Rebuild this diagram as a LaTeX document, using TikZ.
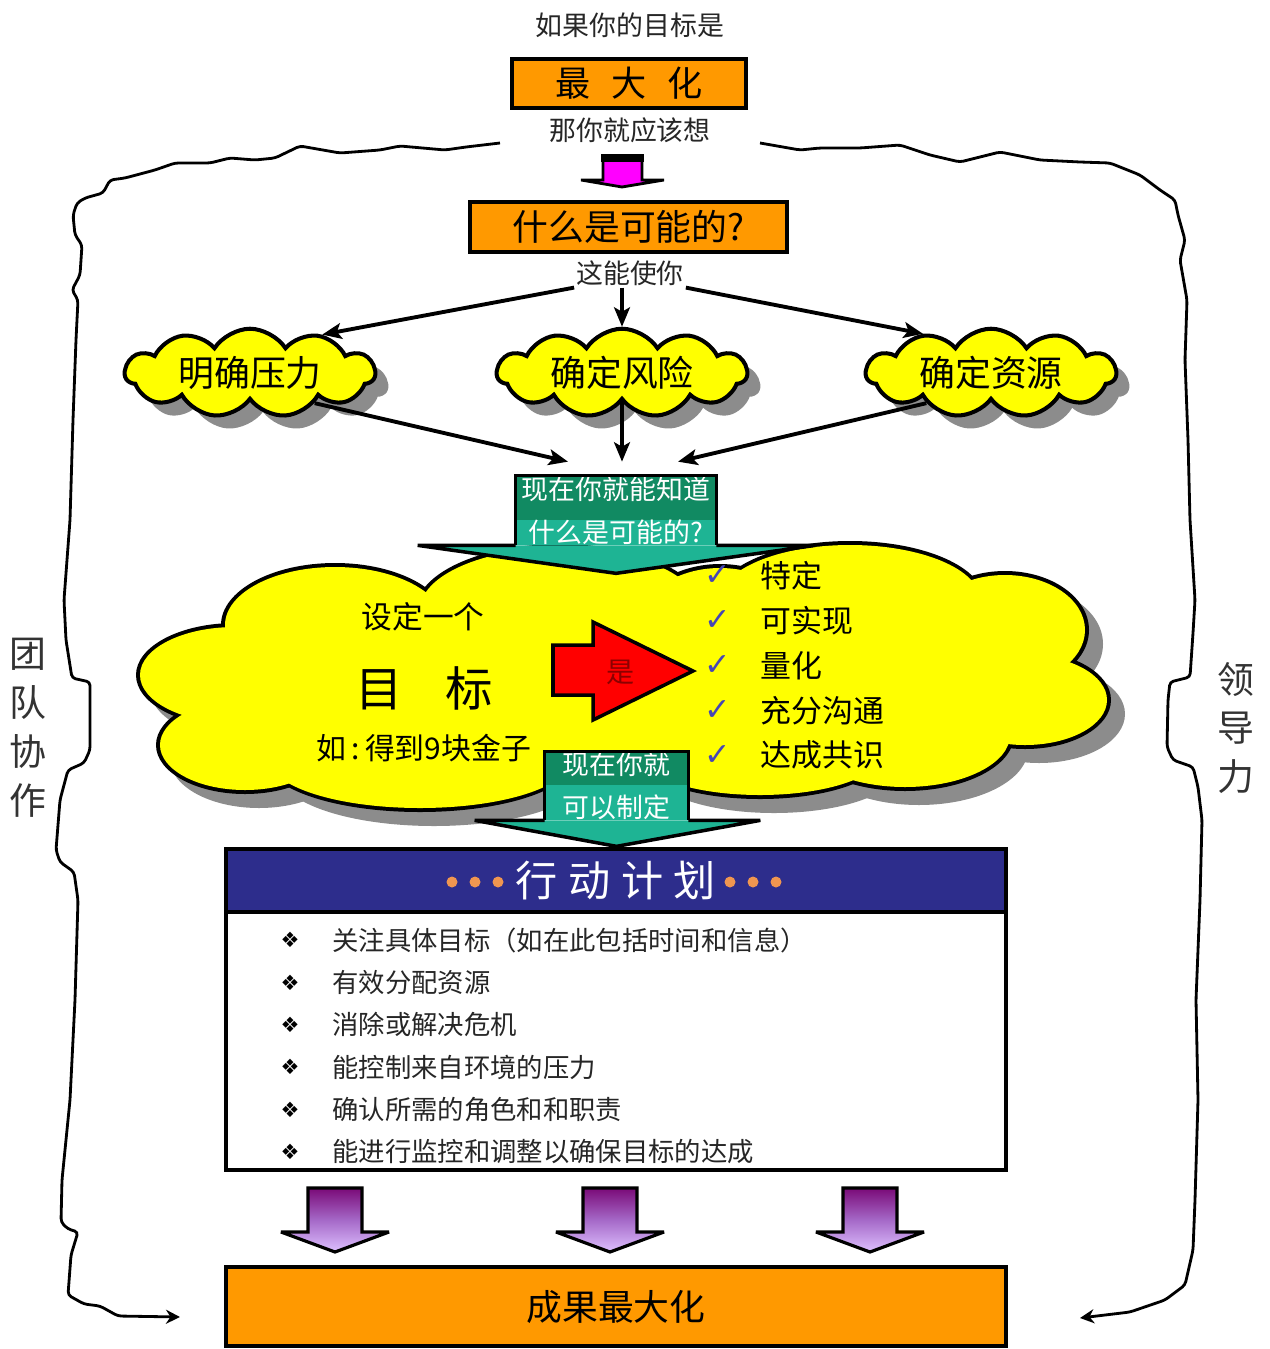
\documentclass[tikz,border=0pt]{standalone}
\usepackage{fontspec}
\setmainfont{Noto Sans CJK SC}
\newfontfamily\symfont{DejaVu Sans}
\usetikzlibrary{positioning,arrows.meta,shapes.symbols,shadows}

\definecolor{boxorange}{RGB}{255,153,0}
\definecolor{cloudyellow}{RGB}{255,255,0}
\definecolor{gdark}{RGB}{17,138,98}
\definecolor{glight}{RGB}{30,180,148}
\definecolor{headblue}{RGB}{45,45,140}
\definecolor{dotorange}{RGB}{240,150,80}
\definecolor{checkblue}{RGB}{70,70,180}
\definecolor{ppdark}{RGB}{122,10,120}
\definecolor{ppmid}{RGB}{165,105,200}
\definecolor{pplight}{RGB}{222,192,255}
\definecolor{shadowgray}{RGB}{140,140,140}
\definecolor{yesred}{RGB}{140,0,0}
\definecolor{pinkfill}{RGB}{255,0,255}

% parts of the big cloud: centre x / centre y / radius x / radius y
\newcommand{\cloudparts}{335/625/110/58, 560/610/140/62, 235/675/95/48,
  245/745/85/45, 420/760/150/48, 430/690/190/90, 850/600/130/55,
  1005/630/80/55, 1025/700/82/45, 905/735/105/52, 760/755/120/40,
  850/670/170/90, 640/690/130/90, 720/640/90/72}

\tikzset{
  orangebox/.style={draw, line width=2.3pt, fill=boxorange, inner sep=0pt},
  caption/.style={font=\fontsize{15.3}{18}\selectfont, text=black!85, inner sep=1pt},
  flow/.style={line width=2.2pt, -{Stealth[length=11pt,width=9pt,inset=2.5pt]}},
  frame/.style={line width=1.6pt, rounded corners=2pt, -{Stealth[length=8pt,width=8pt]}},
  smallcloud/.style={cloud, cloud puffs=11, cloud puff arc=115, aspect=3.4, draw,
    line width=2.3pt, fill=cloudyellow, minimum width=5cm, minimum height=1.45cm,
    inner sep=0pt, font=\fontsize{20.4}{24}\selectfont,
    drop shadow={shadow xshift=0.26cm, shadow yshift=-0.26cm, fill=shadowgray, opacity=1}},
  greenbox/.style={fill=glight, inner sep=0pt, align=center, text=white,
    font=\fontsize{15.3}{24.4}\selectfont,
    path picture={\fill[gdark] (path picture bounding box.north west)
      rectangle ([yshift=-#1]path picture bounding box.north east);}},
  greenedge/.style={line width=2pt, line join=miter, miter limit=2},
  checkmark/.style={font=\symfont\fontsize{18}{20}\selectfont, text=checkblue},
  checktext/.style={font=\fontsize{17.6}{20}\selectfont, anchor=west, inner sep=0pt},
  bullet/.style={font=\symfont\fontsize{12}{14}\selectfont},
  tasktext/.style={font=\fontsize{15}{18}\selectfont, text=black!85, anchor=west, inner sep=0pt},
  purplearrow/.style={top color=ppdark, bottom color=pplight, middle color=ppmid,
    draw=black, line width=1.8pt, line join=miter, miter limit=2},
  sidetext/.style={font=\fontsize{21}{27.8}\selectfont, align=center, text=black!80}
}

\begin{document}
\begin{tikzpicture}[x=0.02cm, y=-0.02cm]
  \useasboundingbox (0,0) rectangle (1269,1349);
  \fill[white] (0,0) rectangle (1269,1349);

  % wavy frame round the whole plan
  \draw[frame] (500,143) -- (466,147) -- (445,150) -- (400,146) -- (380,150) -- (340,153)
    -- (300,146) -- (275,158) -- (255,160) -- (230,158) -- (210,163) -- (175,163)
    -- (155,170) -- (125,178) -- (110,180) -- (103,193) -- (85,198) -- (77,203)
    -- (73,215) -- (75,235) -- (82,245) -- (80,275) -- (72,290) -- (78,300)
    -- (76,340) -- (73,420) -- (70,520) -- (64,600) -- (66,640) -- (72,678)
    -- (90,682) -- (90,750) -- (84,763) -- (68,770) -- (60,800) -- (56,850)
    -- (60,862) -- (74,872) -- (78,900) -- (75,1000) -- (70,1100) -- (62,1180)
    -- (61,1222) -- (68,1229) -- (78,1232) -- (71,1255) -- (68,1295) -- (84,1304)
    -- (100,1306) -- (118,1316) -- (180,1317);
  \draw[frame] (760,143) -- (800,150) -- (820,148) -- (860,148) -- (900,145)
    -- (930,155) -- (960,162) -- (1000,152) -- (1040,160) -- (1080,162)
    -- (1110,163) -- (1140,175) -- (1160,190) -- (1175,200) -- (1178,215)
    -- (1185,240) -- (1180,260) -- (1187,300) -- (1185,360) -- (1188,440)
    -- (1190,520) -- (1195,600) -- (1193,633) -- (1190,677) -- (1170,682)
    -- (1168,700) -- (1167,747) -- (1173,760) -- (1193,767) -- (1198,787)
    -- (1202,820) -- (1200,900) -- (1196,1000) -- (1198,1100) -- (1195,1200)
    -- (1193,1250) -- (1185,1285) -- (1165,1300) -- (1130,1312) -- (1080,1318);
  \node[sidetext] (team) at (28,728) {团\\队\\协\\作};
  \node[sidetext] (lead) at (1236,728) {领\\导\\力};

  % top part
  \node[caption] (goalq) at (630,25) {如果你的目标是};
  \node[orangebox, minimum width=4.68cm, minimum height=0.98cm,
    font=\fontsize{20}{24}\selectfont] (maxim) at (629,83.5) {最\hspace{0.6em}大\hspace{0.6em}化};
  \node[caption] (think) at (630,130) {那你就应该想};
  \filldraw[fill=pinkfill, draw=black, line width=1.6pt, line join=miter, miter limit=2]
    (603,158) -- (642,158) -- (642,180) -- (664,180) -- (622,187) -- (581,180)
    -- (603,180) -- cycle;
  \draw[line width=4.5pt] (601,158) -- (644,158);
  \node[orangebox, minimum width=6.34cm, minimum height=1.0cm,
    font=\fontsize{20.4}{24}\selectfont] (possible) at (628.5,227) {什么是可能的?};
  \node[caption] (ability) at (630,273) {这能使你};

  % the three small clouds
  \node[smallcloud] (pressure) at (250,373) {明确压力};
  \node[smallcloud] (risk) at (622,373) {确定风险};
  \node[smallcloud] (resource) at (991,373) {确定资源};

  % big cloud: shadow, outline, fill
  \foreach \cx/\cy/\rx/\ry in \cloudparts
    \fill[shadowgray] ({\cx+14},{\cy+14}) ellipse [x radius={\rx+4}, y radius={\ry+4}];
  \foreach \cx/\cy/\rx/\ry in \cloudparts
    \fill[black] (\cx,\cy) ellipse [x radius={\rx+4}, y radius={\ry+4}];
  \foreach \cx/\cy/\rx/\ry in \cloudparts
    \fill[cloudyellow] (\cx,\cy) ellipse [x radius=\rx, y radius=\ry];

  \node[font=\fontsize{17.5}{20}\selectfont] (setone) at (423,617) {设定一个};
  \node[font=\fontsize{27}{30}\selectfont] (target) at (424,688) {目\hspace{0.9em}标};
  \node[font=\fontsize{17}{20}\selectfont] (sample) at (424,748) {如\,:\,得到9块金子};

  % red arrow
  \filldraw[fill=red, draw=black, line width=2pt, line join=miter, miter limit=3]
    (553,645) -- (593,645) -- (593,622) -- (693,671) -- (593,720) -- (593,695)
    -- (553,695) -- cycle;
  \node[font=\fontsize{16}{18}\selectfont, text=yesred] (yes) at (621,672) {是};

  \foreach \goal [count=\i] in {特定,可实现,量化,充分沟通,达成共识}{
    \node[checkmark] (check\i) at (718,{576+(\i-1)*44.8}) {✓};
    \node[checktext] (goal\i) at (760,{576+(\i-1)*44.8}) {\goal};
  }

  % first green arrow
  \node[greenbox=0.88cm, minimum width=4cm, minimum height=1.38cm] (know)
    at (616,510.5) {现在你就能知道\\什么是可能的?};
  \filldraw[greenedge, fill=glight] (know.south east) -- ++(99,0)
    -- ([yshift=-0.56cm]know.south) -- ([xshift=-1.96cm]know.south west) -- (know.south west);
  \draw[greenedge] (know.south west) -- (know.north west) -- (know.north east) -- (know.south east);

  \coordinate (inL) at ([xshift=-0.96cm, yshift=0.28cm]know.north);
  \coordinate (inM) at ([yshift=0.28cm]know.north);
  \coordinate (inR) at ([xshift=1.24cm, yshift=0.28cm]know.north);

  \draw[flow] (ability.south west) -- (pressure.28);
  \draw[flow] (risk.north |- ability.south) -- (risk.north);
  \draw[flow] (ability.south east) -- (resource.150);
  \draw[flow] (pressure.335) -- (inL);
  \draw[flow] (risk.south) -- (risk.south |- inM);
  \draw[flow] (resource.205) -- (inR);

  % second green arrow
  \node[greenbox=0.66cm, minimum width=2.86cm, minimum height=1.36cm] (make)
    at (616.5,786) {现在你就\\可以制定};
  \filldraw[greenedge, fill=glight] (make.south east) -- ++(72,0)
    -- ([yshift=-0.52cm]make.south) -- ([xshift=-1.4cm]make.south west) -- (make.south west);
  \draw[greenedge] (make.south west) -- (make.north west) -- (make.north east) -- (make.south east);

  % action plan
  \node[draw, line width=2.3pt, fill=headblue, text=white, outer sep=0pt,
    minimum width=15.6cm, minimum height=1.26cm, font=\fontsize{24}{28}\selectfont]
    (plan) at (616,880.5) {行\hspace{0.25em}动\hspace{0.25em}计\hspace{0.25em}划};
  \foreach \dx in {452,475,498,730,753,776}
    \fill[dotorange] (\dx,882) circle (5.5);
  \node[draw, line width=2pt, outer sep=0pt, minimum width=15.6cm, minimum height=5.16cm,
    below=0pt of plan] (planbody) {};
  \foreach \task [count=\i] in {关注具体目标（如在此包括时间和信息）, 有效分配资源,
      消除或解决危机, 能控制来自环境的压力, 确认所需的角色和和职责,
      能进行监控和调整以确保目标的达成}{
    \node[bullet] (bullet\i) at (290,{940+(\i-1)*42.4}) {❖};
    \node[tasktext] (task\i) at (332,{940+(\i-1)*42.4}) {\task};
  }

  % purple arrows and the result
  \foreach \px in {335,610,870}
    \filldraw[purplearrow] ({\px-27},1188) -- ({\px+27},1188) -- ({\px+27},1232)
      -- ({\px+54},1232) -- (\px,1252) -- ({\px-54},1232) -- ({\px-27},1232) -- cycle;
  \node[orangebox, minimum width=15.6cm, minimum height=1.58cm,
    font=\fontsize{20.4}{24}\selectfont] (result) at (616,1306.5) {成果最大化};
\end{tikzpicture}
\end{document}
